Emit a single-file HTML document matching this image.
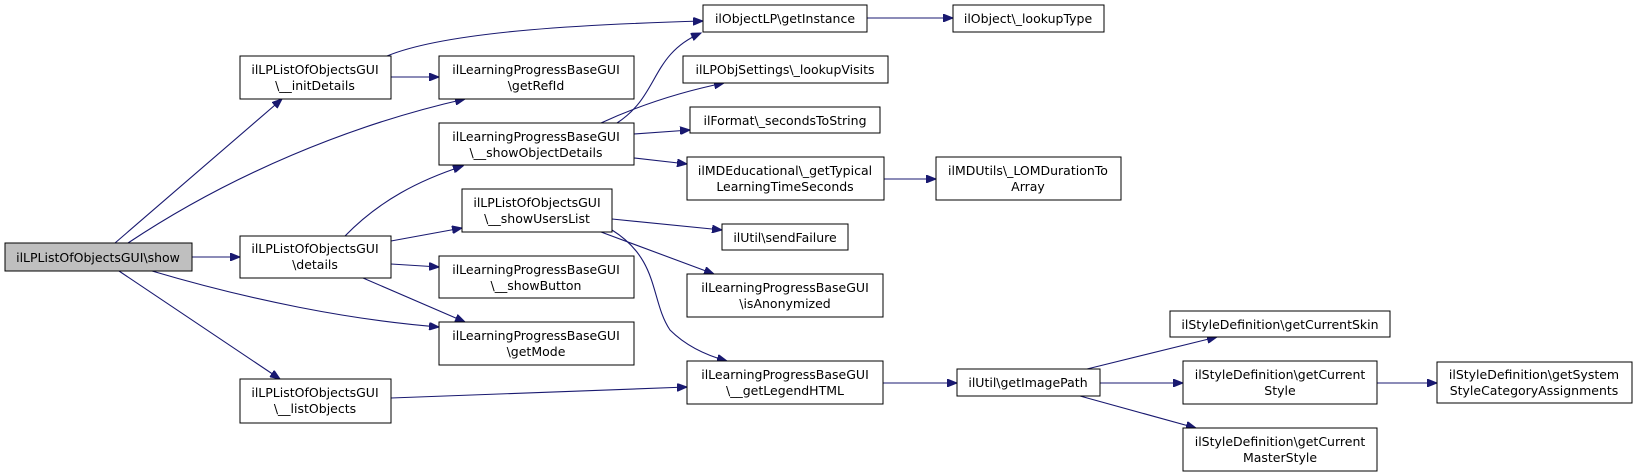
<!DOCTYPE html>
<html><head><meta charset="utf-8"><style>
html,body{margin:0;padding:0;background:#fff;}
svg{display:block;}
text{font-family:"DejaVu Sans","Liberation Sans",sans-serif;font-size:12.5px;fill:#000;}
rect{fill:#fff;stroke:#000;stroke-width:1;}
path{fill:none;stroke:#191970;stroke-width:1.1;}
</style></head><body>
<svg width="1637" height="476" viewBox="0 0 1637 476" xmlns="http://www.w3.org/2000/svg">
<defs><marker id="a" markerWidth="11" markerHeight="8" refX="10" refY="4" orient="auto" markerUnits="userSpaceOnUse"><polygon points="0,0 10,4 0,8" fill="#191970" stroke="#191970"/></marker></defs>
<g marker-end="url(#a)">
<path d="M115,243 L282,99"/>
<path d="M128,243 C230,175 350,125 465,99"/>
<path d="M192,257 L240,257"/>
<path d="M152,271 C250,300 350,320 439,327"/>
<path d="M119,271 L280,379"/>
<path d="M391,77 L439,77"/>
<path d="M387,56 C450,30 600,24 703,21"/>
<path d="M345,236 C380,200 420,180 463,166"/>
<path d="M391,241 L462,228"/>
<path d="M391,264 L439,267"/>
<path d="M363,278 L465,322"/>
<path d="M391,398 L687,387"/>
<path d="M617,123 C660,95 650,55 701,33"/>
<path d="M601,123 C640,105 680,92 724,83"/>
<path d="M634,134 L690,130"/>
<path d="M634,158 L687,164"/>
<path d="M612,219 L722,230"/>
<path d="M601,232 L714,274"/>
<path d="M612,230 C660,260 650,300 670,330 C685,345 705,355 727,361"/>
<path d="M867,18 L953,18"/>
<path d="M884,179 L936,179"/>
<path d="M883,383 L957,383"/>
<path d="M1087,369 L1217,337"/>
<path d="M1100,383 L1183,383"/>
<path d="M1080,396 L1196,428"/>
<path d="M1377,383 L1437,383"/>
</g>
<g text-anchor="middle">
<rect x="5" y="243" width="187" height="28" style="fill:#bfbfbf"/><text x="98" y="262">ilLPListOfObjectsGUI\show</text>
<rect x="240" y="56" width="151" height="43"/><text x="315" y="74">ilLPListOfObjectsGUI</text><text x="315" y="90">\__initDetails</text>
<rect x="240" y="236" width="151" height="42"/><text x="315" y="253">ilLPListOfObjectsGUI</text><text x="315" y="269">\details</text>
<rect x="240" y="379" width="151" height="44"/><text x="315" y="397">ilLPListOfObjectsGUI</text><text x="315" y="413">\__listObjects</text>
<rect x="439" y="56" width="195" height="43"/><text x="536" y="74">ilLearningProgressBaseGUI</text><text x="536" y="90">\getRefId</text>
<rect x="439" y="123" width="195" height="42"/><text x="536" y="141">ilLearningProgressBaseGUI</text><text x="536" y="157">\__showObjectDetails</text>
<rect x="462" y="189" width="150" height="43"/><text x="537" y="207">ilLPListOfObjectsGUI</text><text x="537" y="223">\__showUsersList</text>
<rect x="439" y="256" width="195" height="42"/><text x="536" y="274">ilLearningProgressBaseGUI</text><text x="536" y="290">\__showButton</text>
<rect x="439" y="322" width="195" height="43"/><text x="536" y="340">ilLearningProgressBaseGUI</text><text x="536" y="356">\getMode</text>
<rect x="703" y="5" width="164" height="27"/><text x="785" y="23">ilObjectLP\getInstance</text>
<rect x="683" y="56" width="205" height="27"/><text x="785" y="74">ilLPObjSettings\_lookupVisits</text>
<rect x="690" y="107" width="190" height="26"/><text x="785" y="125">ilFormat\_secondsToString</text>
<rect x="687" y="157" width="197" height="43"/><text x="785" y="175">ilMDEducational\_getTypical</text><text x="785" y="191">LearningTimeSeconds</text>
<rect x="722" y="224" width="126" height="26"/><text x="785" y="242">ilUtil\sendFailure</text>
<rect x="687" y="274" width="196" height="43"/><text x="785" y="292">ilLearningProgressBaseGUI</text><text x="785" y="308">\isAnonymized</text>
<rect x="687" y="361" width="196" height="43"/><text x="785" y="379">ilLearningProgressBaseGUI</text><text x="785" y="395">\__getLegendHTML</text>
<rect x="953" y="5" width="151" height="27"/><text x="1028" y="23">ilObject\_lookupType</text>
<rect x="936" y="157" width="185" height="43"/><text x="1028" y="175">ilMDUtils\_LOMDurationTo</text><text x="1028" y="191">Array</text>
<rect x="957" y="369" width="143" height="27"/><text x="1028" y="387">ilUtil\getImagePath</text>
<rect x="1170" y="311" width="220" height="26"/><text x="1280" y="329">ilStyleDefinition\getCurrentSkin</text>
<rect x="1183" y="361" width="194" height="43"/><text x="1280" y="379">ilStyleDefinition\getCurrent</text><text x="1280" y="395">Style</text>
<rect x="1183" y="428" width="194" height="43"/><text x="1280" y="446">ilStyleDefinition\getCurrent</text><text x="1280" y="462">MasterStyle</text>
<rect x="1437" y="362" width="195" height="41"/><text x="1534" y="379">ilStyleDefinition\getSystem</text><text x="1534" y="395">StyleCategoryAssignments</text>
</g>
</svg>
</body></html>
